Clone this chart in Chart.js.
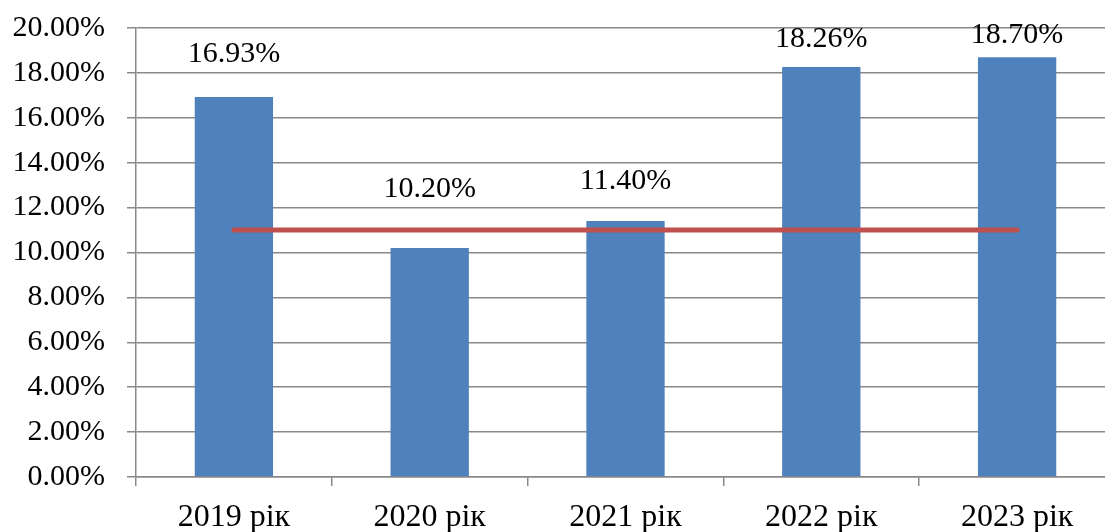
<!DOCTYPE html>
<html>
<head>
<meta charset="utf-8">
<script src="https://cdn.jsdelivr.net/npm/chart.js@4/dist/chart.umd.min.js"></script>
<style>
  html, body { margin: 0; padding: 0; background: #fff; overflow: hidden; }
  #wrap { position: relative; width: 1120px; height: 532px; }
</style>
</head>
<body>
<div id="wrap"><canvas id="c"></canvas></div>
<script>
// Year categories and yearly share values (%)
const categories = ['2019 рік', '2020 рік', '2021 рік', '2022 рік', '2023 рік'];
const shareValues = [16.93, 10.20, 11.40, 18.26, 18.70];
// Reference level drawn as a horizontal line across the years (%)
const referenceLevel = [11, 11, 11, 11, 11];
// Y axis tick range (%)
const yMin = 0, yMax = 20, yStep = 2;

const FAMILY = '"Liberation Serif", "Times New Roman", serif';
const FONT = { family: FAMILY, size: 30 };
const GRID = '#898989';

// Extra lift (px) of each value label above its bar
const labelLift = [43, 59, 40, 28, 22];

const valueLabels = {
  id: 'valueLabels',
  afterDatasetsDraw(chart) {
    const idx = chart.data.datasets.findIndex(d => d.type === 'bar');
    const meta = chart.getDatasetMeta(idx);
    const ctx = chart.ctx;
    ctx.save();
    ctx.font = `${FONT.size}px ${FONT.family}`;
    ctx.fillStyle = '#000';
    ctx.textAlign = 'center';
    ctx.textBaseline = 'middle';
    meta.data.forEach((bar, i) => {
      ctx.fillText(shareValues[i].toFixed(2) + '%', bar.x, bar.y - labelLift[i]);
    });
    ctx.restore();
  }
};

new Chart(document.getElementById('c'), {
  data: {
    labels: categories,
    datasets: [
      {
        type: 'line',
        data: referenceLevel,
        borderColor: '#C0504D',
        borderWidth: 5,
        borderCapStyle: 'round',
        pointRadius: 0,
        order: 0
      },
      {
        type: 'bar',
        data: shareValues,
        backgroundColor: '#4F81BD',
        categoryPercentage: 1,
        barPercentage: 0.4,
        order: 1
      }
    ]
  },
  options: {
    responsive: true,
    maintainAspectRatio: false,
    animation: false,
    layout: { padding: { top: 0, right: 5, left: 0, bottom: 0 } },
    plugins: { legend: { display: false }, tooltip: { enabled: false } },
    scales: {
      x: {
        offset: true,
        grid: {
          offset: true,
          drawOnChartArea: false,
          drawTicks: true,
          tickLength: 9,
          color: GRID,
          lineWidth: 1.5
        },
        border: { color: GRID, width: 1.5 },
        ticks: { color: '#000', font: { family: FAMILY, size: 32 }, padding: 12, maxRotation: 0 },
        afterFit(scale) { scale.height = 55; }
      },
      y: {
        min: yMin,
        max: yMax,
        ticks: {
          stepSize: yStep,
          color: '#000',
          font: { family: FAMILY, size: 30, lineHeight: 0.4 },
          padding: 22,
          callback: v => v.toFixed(2) + '%'
        },
        grid: { color: GRID, lineWidth: 1.5, tickLength: 9 },
        border: { color: GRID, width: 1.5 },
        afterFit(scale) { scale.width = 136; }
      }
    }
  },
  plugins: [valueLabels]
});
</script>
</body>
</html>
